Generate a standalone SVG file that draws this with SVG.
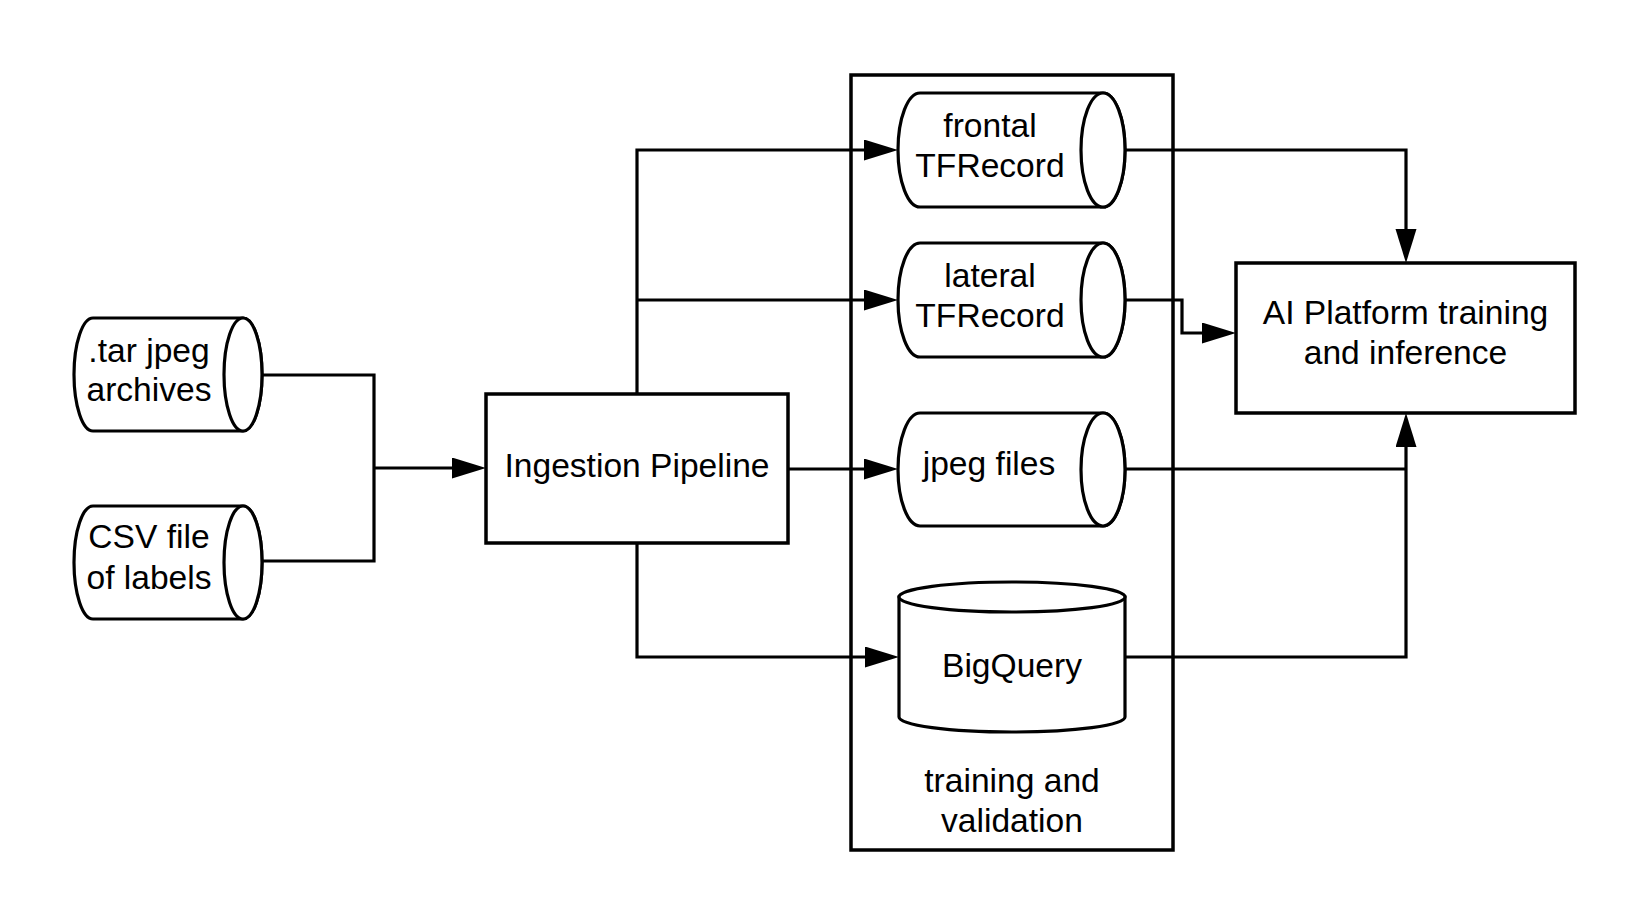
<svg xmlns="http://www.w3.org/2000/svg" width="1650" height="924" viewBox="0 0 1650 924">
<style>
.shape{fill:#ffffff;stroke:#000000;stroke-width:3.2;}
.box{fill:#ffffff;stroke:#000000;stroke-width:3.5;}
.conn{fill:none;stroke:#000000;stroke-width:3.2;}
.arr{fill:none;stroke:#000000;stroke-width:3.2;marker-end:url(#ah);}
text{font-family:"Liberation Sans",Arial,sans-serif;font-size:33.6px;fill:#000000;text-anchor:middle;}
</style>
<defs>
<marker id="ah" markerUnits="userSpaceOnUse" markerWidth="36" markerHeight="24" refX="0" refY="10.5" orient="auto">
<path d="M0,0 L34,10.5 L0,21 Z" fill="#000000"/>
</marker>
</defs>
<rect width="1650" height="924" fill="#ffffff"/>
<g id="container">
<rect class="box" x="851" y="75" width="322" height="775" fill="none"/>
<text x="1012" y="792">training and</text>
<text x="1012" y="832">validation</text>
</g>
<g id="connectors">
<path class="conn" d="M262,375 H374 V561 H262"/>
<path class="arr" d="M374,468 H452"/>
<path class="arr" d="M637,394 V150 H864"/>
<path class="arr" d="M637,300 H864"/>
<path class="arr" d="M788,469 H864"/>
<path class="arr" d="M637,543 V657 H865"/>
<path class="arr" d="M1125,150 H1406 V229"/>
<path class="arr" d="M1125,300 H1182 V333 H1202"/>
<path class="conn" d="M1125,469 H1406"/>
<path class="arr" d="M1125,657 H1406 V447"/>
</g>
<g id="tar">
<path class="shape" d="M93,318 H243 A19,56.5 0 0 1 243,431 H93 A19,56.5 0 0 1 93,318 Z"/>
<ellipse class="shape" cx="243" cy="374.5" rx="19" ry="56.5"/>
<text x="149" y="362">.tar jpeg</text>
<text x="149" y="401">archives</text>
</g>
<g id="csv">
<path class="shape" d="M93,506 H243 A19,56.5 0 0 1 243,619 H93 A19,56.5 0 0 1 93,506 Z"/>
<ellipse class="shape" cx="243" cy="562.5" rx="19" ry="56.5"/>
<text x="149" y="548">CSV file</text>
<text x="149" y="589">of labels</text>
</g>
<g id="ingestion">
<rect class="box" x="486" y="394" width="302" height="149"/>
<text x="637" y="477">Ingestion Pipeline</text>
</g>
<g id="frontal">
<path class="shape" d="M920,93 H1103 A22,57 0 0 1 1103,207 H920 A22,57 0 0 1 920,93 Z"/>
<ellipse class="shape" cx="1103" cy="150" rx="22" ry="57"/>
<text x="990" y="137">frontal</text>
<text x="990" y="177">TFRecord</text>
</g>
<g id="lateral">
<path class="shape" d="M920,243 H1103 A22,57 0 0 1 1103,357 H920 A22,57 0 0 1 920,243 Z"/>
<ellipse class="shape" cx="1103" cy="300" rx="22" ry="57"/>
<text x="990" y="287">lateral</text>
<text x="990" y="327">TFRecord</text>
</g>
<g id="jpeg">
<path class="shape" d="M920,413 H1103 A22,56.5 0 0 1 1103,526 H920 A22,56.5 0 0 1 920,413 Z"/>
<ellipse class="shape" cx="1103" cy="469.5" rx="22" ry="56.5"/>
<text x="989" y="475">jpeg files</text>
</g>
<g id="bigquery">
<path class="shape" d="M899,597 V717 A113,15 0 0 0 1125,717 V597 Z"/>
<ellipse class="shape" cx="1012" cy="597" rx="113" ry="15"/>
<text x="1012" y="677">BigQuery</text>
</g>
<g id="aiplatform">
<rect class="box" x="1236" y="263" width="339" height="150"/>
<text x="1405.5" y="324">AI Platform training</text>
<text x="1405.5" y="364">and inference</text>
</g>
</svg>
